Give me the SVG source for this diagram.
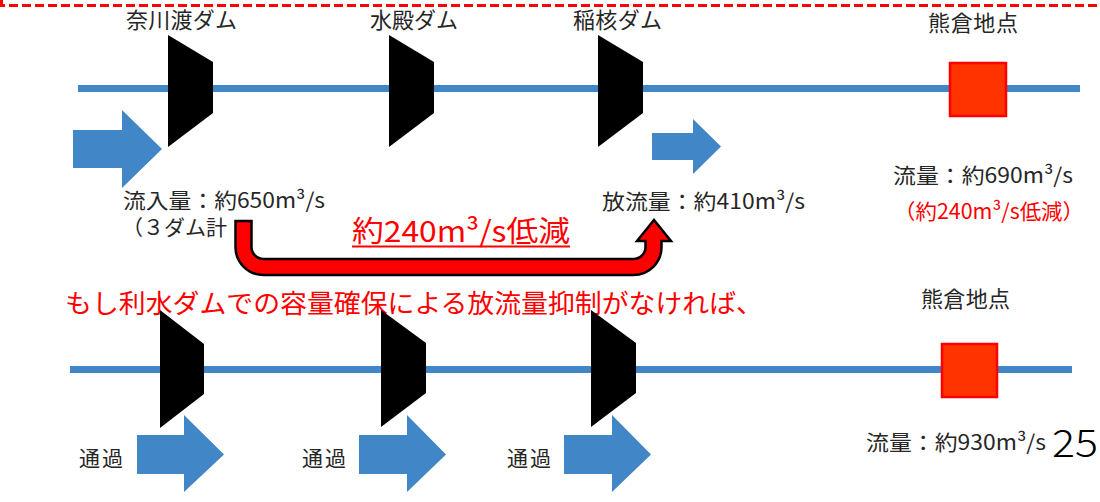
<svg xmlns="http://www.w3.org/2000/svg" width="1100" height="502" viewBox="0 0 1100 502">
<style>
.t{font-family:"Noto Sans CJK JP","Noto Sans",sans-serif;fill:#262626}
.r{font-family:"Noto Sans CJK JP","Noto Sans",sans-serif;fill:#FF0000}
.river{stroke:#4186C6;stroke-width:7;fill:none}
.flow{fill:#4186C6}
.dam{fill:#000}
.pt{fill:#FF3300;stroke:#FF0000;stroke-width:2.5}
</style>
<rect width="1100" height="502" fill="#fff"/>
<path d="M1.5,0 L1.5,5.5 L1100,5.5" fill="none" stroke="#FF0000" stroke-width="3" stroke-dasharray="9,4"/>

<g id="connectors">
  <line class="river" x1="78" y1="88.5" x2="1080" y2="88.5"/>
  <line class="river" x1="70" y1="369.5" x2="1072" y2="369.5"/>
  <polygon class="flow" points="73,130 122,130 122,110 162,149 122,188 122,168 73,168"/>
  <polygon class="flow" points="652,133 693,133 693,119 721,146.5 693,174 693,160 652,160"/>
  <polygon class="flow" points="137,435 184,435 184,415 224,454.5 184,492 184,474 137,474"/>
  <polygon class="flow" points="359,435 407,435 407,415 446,454.5 407,492 407,474 359,474"/>
  <polygon class="flow" points="564,435 612,435 612,415 651,454.5 612,492 612,474 564,474"/>
</g>

<g id="inflow-label">
  <text class="t" x="123" y="208" font-size="21" textLength="202" lengthAdjust="spacingAndGlyphs">流入量：約650m³/s</text>
  <text class="t" x="122" y="235" font-size="21">（３ダム計</text>
</g>

<g id="reduction-arrow">
  <path d="M235.5,221 L251.5,221 L251.5,247 A12,12 0 0 0 263.5,259 L633.5,259 A12,12 0 0 0 645.5,247 L645.5,241 L637,241 L654,220 L671,241 L661.5,241 L661.5,247 A28,28 0 0 1 633.5,275 L263.5,275 A28,28 0 0 1 235.5,247 Z" fill="#FF0000" stroke="#000" stroke-width="2.5" stroke-linejoin="miter"/>
  <text class="r" x="352" y="242" font-size="29" textLength="218" lengthAdjust="spacingAndGlyphs">約240m³/s低減</text>
  <line x1="352" y1="246.5" x2="570" y2="246.5" stroke="#FF0000" stroke-width="2"/>
</g>

<g id="condition-text">
  <text class="r" x="65" y="313" font-size="26" textLength="698" lengthAdjust="spacingAndGlyphs">もし利水ダムでの容量確保による放流量抑制がなければ、</text>
</g>

<g id="dam-nagawado">
  <polygon class="dam" points="168,35 213,62 213,113 168,147"/>
  <text class="t" x="126" y="28" font-size="22" textLength="111" lengthAdjust="spacing">奈川渡ダム</text>
</g>
<g id="dam-midono">
  <polygon class="dam" points="389,35 434,62 434,113 389,147"/>
  <text class="t" x="370" y="28" font-size="22" textLength="88" lengthAdjust="spacing">水殿ダム</text>
</g>
<g id="dam-inekoki">
  <polygon class="dam" points="598,35 643,62 643,113 598,147"/>
  <text class="t" x="573" y="28" font-size="22" textLength="89" lengthAdjust="spacing">稲核ダム</text>
</g>
<g id="outflow-label">
  <text class="t" x="602" y="209" font-size="21" textLength="203" lengthAdjust="spacingAndGlyphs">放流量：約410m³/s</text>
</g>
<g id="kumakura-top">
  <rect class="pt" x="950" y="63" width="56" height="53"/>
  <text class="t" x="928" y="31" font-size="22" textLength="90" lengthAdjust="spacing">熊倉地点</text>
  <text class="t" x="893" y="183" font-size="21" textLength="180" lengthAdjust="spacingAndGlyphs">流量：約690m³/s</text>
  <text class="r" x="894" y="219" font-size="21" textLength="190" lengthAdjust="spacingAndGlyphs">（約240m³/s低減）</text>
</g>

<g id="dam-nagawado-b">
  <polygon class="dam" points="160,310 204,344 204,394 160,428"/>
  <text class="t" x="79" y="466" font-size="21" textLength="44" lengthAdjust="spacing">通過</text>
</g>
<g id="dam-midono-b">
  <polygon class="dam" points="381,310 426,343 426,393 381,427"/>
  <text class="t" x="302" y="466" font-size="21" textLength="44" lengthAdjust="spacing">通過</text>
</g>
<g id="dam-inekoki-b">
  <polygon class="dam" points="591,310 636,343 636,393 591,427"/>
  <text class="t" x="507" y="466" font-size="21" textLength="44" lengthAdjust="spacing">通過</text>
</g>
<g id="kumakura-bottom">
  <rect class="pt" x="942" y="344" width="55" height="53"/>
  <text class="t" x="921" y="307" font-size="22" textLength="89" lengthAdjust="spacing">熊倉地点</text>
  <text class="t" x="866" y="450" font-size="21" textLength="180" lengthAdjust="spacingAndGlyphs">流量：約930m³/s</text>
</g>
<g id="page-number">
  <text x="1052" y="457" font-size="38" font-weight="300" textLength="46" lengthAdjust="spacingAndGlyphs" style="font-family:'Noto Sans CJK JP','Noto Sans',sans-serif;fill:#000">25</text>
</g>
</svg>
